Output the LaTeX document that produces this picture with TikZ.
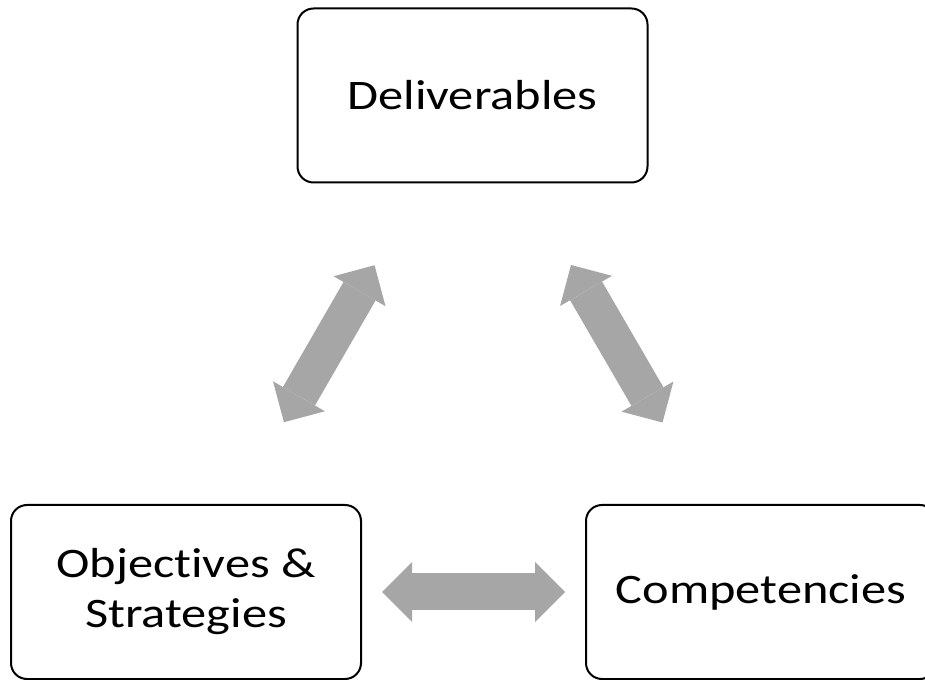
\documentclass[tikz,border=0pt]{standalone}
\usepackage{fontspec}
\setmainfont{Carlito}[FakeStretch=1.2, Ligatures=NoCommon]
\usetikzlibrary{arrows.meta}
\definecolor{arrowgray}{HTML}{A6A6A6}
\tikzset{
  box/.style={draw=black, line width=1.5pt, rounded corners=12pt, fill=white,
    minimum width=262.5pt, minimum height=130.5pt, align=center,
    font=\fontsize{31.5}{37.5}\selectfont, inner sep=0pt},
  dblarrow/.style={draw=arrowgray, line width=27.75pt,
    {Triangle[length=22.5pt,width=45pt,line width=0pt]}-{Triangle[length=22.5pt,width=45pt,line width=0pt]},
    shorten <=147pt, shorten >=147pt}
}
\begin{document}
\begin{tikzpicture}[x=0.75pt,y=-0.75pt]
\useasboundingbox (0,0) rectangle (925,680);
\node[box] (deliv) at (472.5,95.5) {Deliverables};
\node[box] (obj) at (186,592) {Objectives \&\\Strategies};
\node[box] (comp) at (761,592) {Competencies};
\draw[dblarrow] (obj.center) -- (deliv.center);
\draw[dblarrow] (deliv.center) -- (comp.center);
\draw[dblarrow] (obj.center) -- (comp.center);
\end{tikzpicture}
\end{document}
